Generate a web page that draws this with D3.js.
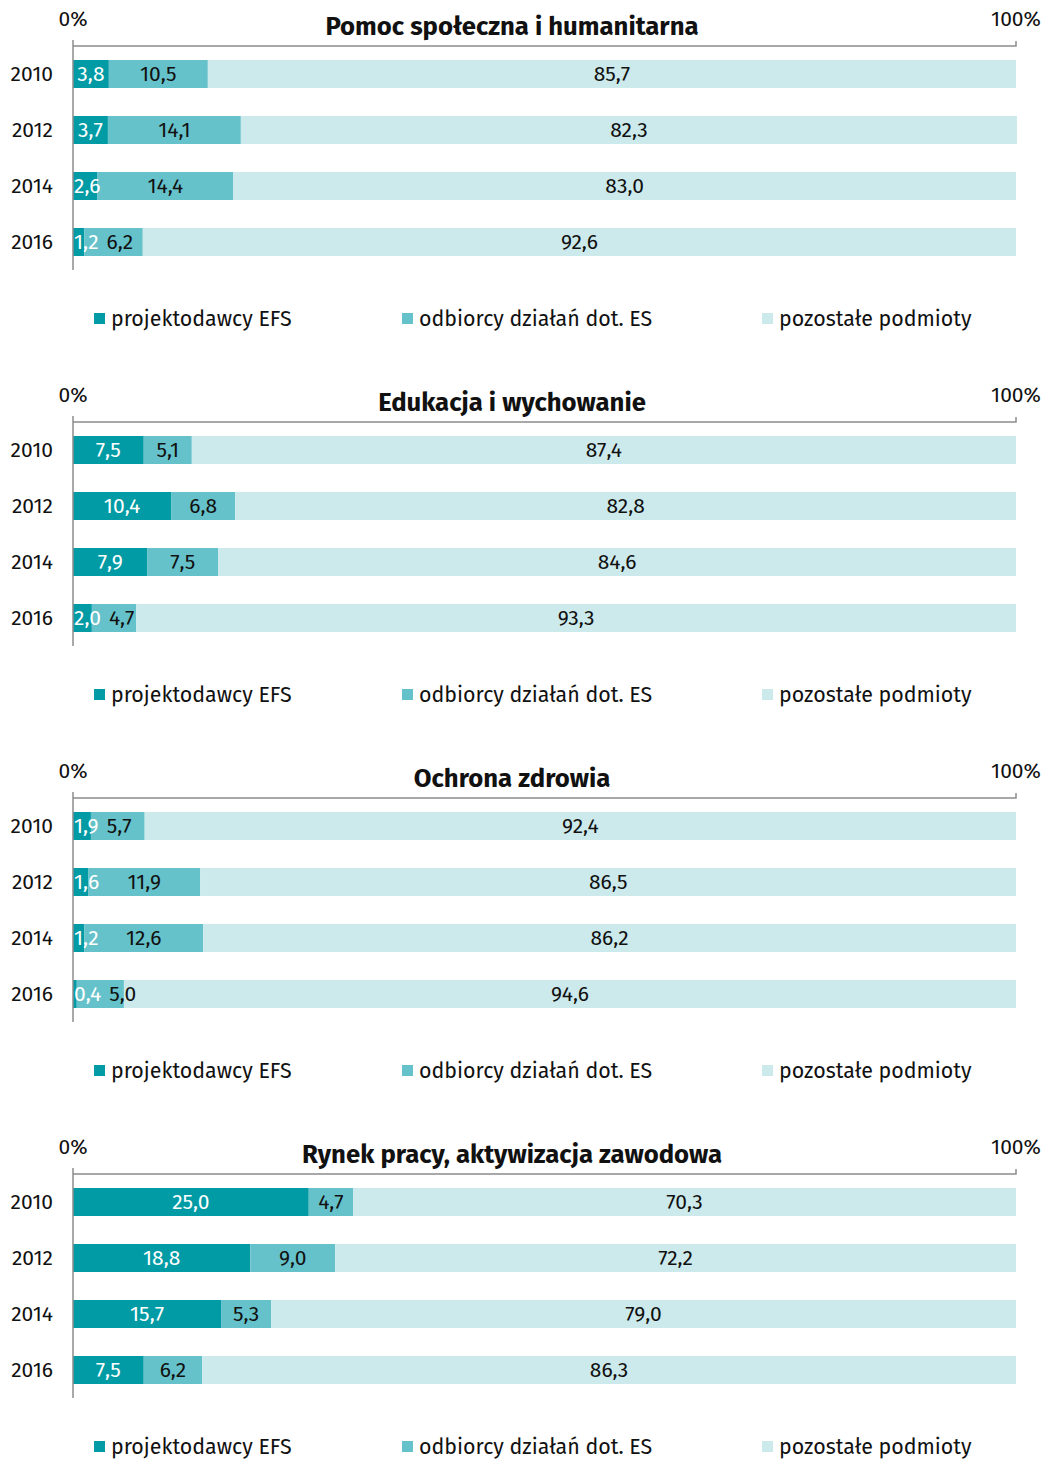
<!DOCTYPE html>
<head>
  <meta charset="utf-8">
  <script src="https://d3js.org/d3.v7.min.js"></script>
  <style>
    body { margin:0; background:#fff; }
    svg { display:block; font-family: "Fira Sans", Roboto, "Noto Sans", sans-serif; }
  </style>
</head>
<body>
  <svg width="1050" height="1459"></svg>
  <script>
    // data
    var years = ['2010', '2012', '2014', '2016'];
    var seriesNames = ['projektodawcy EFS', 'odbiorcy działań dot. ES', 'pozostałe podmioty'];
    var titles = ['Pomoc społeczna i humanitarna', 'Edukacja i wychowanie', 'Ochrona zdrowia', 'Rynek pracy, aktywizacja zawodowa'];
    var pomoc = [[3.8, 10.5, 85.7], [3.7, 14.1, 82.3], [2.6, 14.4, 83.0], [1.2, 6.2, 92.6]];
    var edukacja = [[7.5, 5.1, 87.4], [10.4, 6.8, 82.8], [7.9, 7.5, 84.6], [2.0, 4.7, 93.3]];
    var zdrowie = [[1.9, 5.7, 92.4], [1.6, 11.9, 86.5], [1.2, 12.6, 86.2], [0.4, 5.0, 94.6]];
    var rynek = [[25.0, 4.7, 70.3], [18.8, 9.0, 72.2], [15.7, 5.3, 79.0], [7.5, 6.2, 86.3]];
    var axisTicks = ['0%', '100%'];

    var panels = [pomoc, edukacja, zdrowie, rynek];
    var colors = ['#009ba4', '#66c2ca', '#cceaec'];
    var labelColors = ['#ffffff', '#111111', '#111111'];

    var svg = d3.select('svg');
    var panelH = 376;
    var x = d3.scaleLinear().domain([0, 100]).range([73, 1016]);
    var y = d3.scaleBand().domain(years).range([46, 270]).paddingInner(0.5).paddingOuter(0.25);
    var fmt = function(v) { return v.toFixed(1).replace('.', ','); };

    panels.forEach(function(rows, pi) {
      var g = svg.append('g').attr('transform', 'translate(0,' + (pi * panelH) + ')');

      // title
      g.append('text')
        .attr('x', 512).attr('y', 35)
        .attr('text-anchor', 'middle')
        .attr('font-size', 25.7).attr('font-weight', 'bold')
        .attr('fill', '#111')
        .text(titles[pi]);

      // 0% / 100%
      g.selectAll('.tick-label').data(axisTicks).enter().append('text')
        .attr('x', function(d, i) { return x(i * 100); })
        .attr('y', 26)
        .attr('text-anchor', 'middle')
        .attr('font-size', 21).attr('fill', '#111')
        .text(function(d) { return d; });

      // stacked bars
      rows.forEach(function(vals, ri) {
        var yr = years[ri];
        var acc = 0;
        var segs = vals.map(function(v, si) {
          var s = { v: v, si: si, x0: acc, x1: acc + v };
          acc += v;
          return s;
        });
        var row = g.append('g');
        row.selectAll('rect').data(segs).enter().append('rect')
          .attr('x', function(d) { return x(d.x0); })
          .attr('width', function(d) { return x(d.x1) - x(d.x0); })
          .attr('y', y(yr))
          .attr('height', y.bandwidth())
          .attr('fill', function(d) { return colors[d.si]; });

        // labels, pushed right when they would overlap
        var prevRight = x(0) - 7;
        segs.forEach(function(d) {
          var t = row.append('text')
            .attr('y', y(yr) + y.bandwidth() / 2)
            .attr('dy', '0.35em')
            .attr('text-anchor', 'middle')
            .attr('font-size', 21)
            .attr('fill', labelColors[d.si])
            .text(fmt(d.v));
          var w = t.node().getComputedTextLength();
          var cx = (x(d.x0) + x(d.x1)) / 2;
          cx = Math.max(cx, prevRight + 8 + w / 2);
          t.attr('x', cx);
          prevRight = cx + w / 2;
        });
      });

      // year labels
      g.selectAll('.year').data(years).enter().append('text')
        .attr('x', 53)
        .attr('y', function(d) { return y(d) + y.bandwidth() / 2; })
        .attr('dy', '0.35em')
        .attr('text-anchor', 'end')
        .attr('font-size', 21).attr('fill', '#111')
        .text(function(d) { return d; });

      // axes
      g.append('path')
        .attr('d', 'M' + x(0) + ',46H' + x(100) + 'V41')
        .attr('fill', 'none').attr('stroke', '#8c8c8c').attr('stroke-width', 1.5);
      g.append('line')
        .attr('x1', x(0)).attr('x2', x(0))
        .attr('y1', 40).attr('y2', 270)
        .attr('stroke', '#8c8c8c').attr('stroke-width', 1.5);

      // legend
      var legX = [94, 402, 762];
      var leg = g.selectAll('.leg').data(seriesNames).enter().append('g')
        .attr('transform', function(d, i) { return 'translate(' + legX[i] + ',318)'; });
      leg.append('rect')
        .attr('x', 0).attr('y', -5).attr('width', 11).attr('height', 11)
        .attr('fill', function(d, i) { return colors[i]; });
      leg.append('text')
        .attr('x', 17).attr('dy', '0.35em')
        .attr('font-size', 21.4).attr('fill', '#111')
        .text(function(d) { return d; });
    });
  </script>
</body>
